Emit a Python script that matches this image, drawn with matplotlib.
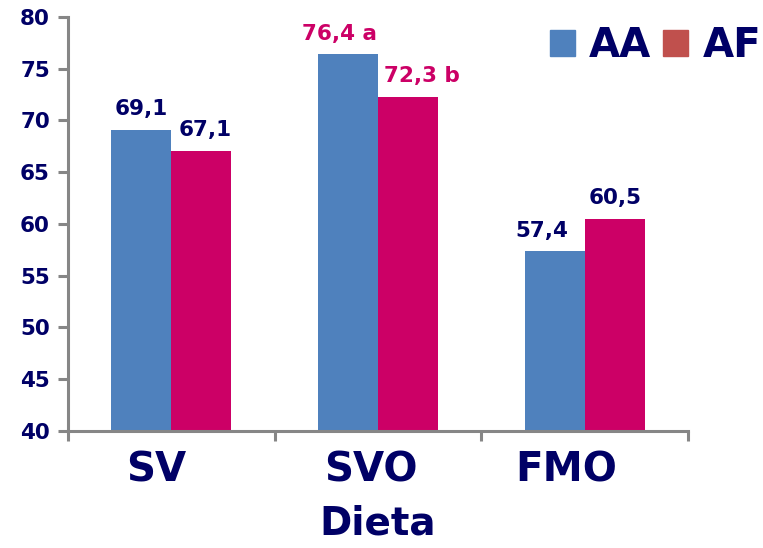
import numpy as np
import matplotlib.pyplot as plt
import matplotlib.transforms as mtransforms
from matplotlib.patches import Patch

dietas = ['SV', 'SVO', 'FMO']
aa = [69.1, 76.4, 57.4]
af = [67.1, 72.3, 60.5]
aa_labels = ['69,1', '76,4 a', '57,4']
af_labels = ['67,1', '72,3 b', '60,5']
series = ['AA', 'AF']

navy = '#000066'
blue = '#4F81BD'
magenta = '#CC0066'
grey = '#868686'

plt.rcParams['font.family'] = ['DejaVu Sans']
plt.rcParams['font.weight'] = 'bold'

fig = plt.figure(figsize=(7.63, 5.48), dpi=100)
ax = fig.add_axes([0.0891, 0.2135, 0.8126, 0.7555])

x = np.arange(len(dietas))
w = 0.29
ax.bar(x - w / 2, aa, w, bottom=0, color=blue, zorder=2)
ax.bar(x + w / 2, af, w, bottom=0, color=magenta, zorder=2)

# value labels; the SVO pair carries significance letters in magenta
lab_colors = [navy, magenta, navy]
aa_dx = [0, -0.04, -0.06]
af_dx = [0.02, 0.07, 0]
for i in range(len(dietas)):
    ax.text(x[i] - w / 2 + aa_dx[i], aa[i] + 1.0, aa_labels[i], ha='center', va='bottom',
            fontsize=15.5, fontweight='bold', color=lab_colors[i])
    ax.text(x[i] + w / 2 + af_dx[i], af[i] + 1.0, af_labels[i], ha='center', va='bottom',
            fontsize=15.5, fontweight='bold', color=lab_colors[i])

ax.set_ylim(40, 80)
ax.set_xlim(-0.5, 2.5)
ax.set_yticks(np.arange(40, 81, 5))
ax.set_xticks(x)
ax.set_xticklabels(dietas, fontsize=29, fontweight='bold', color=navy)
ax.set_xticks(np.arange(-0.5, 2.6, 1), minor=True)
ax.tick_params(axis='x', which='major', length=0, pad=14)
ax.tick_params(axis='x', which='minor', length=7, width=2.2, color=grey, direction='out')
ax.tick_params(axis='y', length=7, width=2.2, color=grey, direction='out', pad=6,
               labelsize=15.5, labelcolor=navy)
for t in ax.get_yticklabels():
    t.set_fontweight('bold')

# category names sit a little left of the group centres
shifts = [-15, -7, -18]
for lab, dx in zip(ax.get_xticklabels(), shifts):
    lab.set_transform(lab.get_transform() +
                      mtransforms.ScaledTranslation(dx / 100, 0, fig.dpi_scale_trans))

ax.set_xlabel('Dieta', fontsize=28, fontweight='bold', color=navy, labelpad=10)

for s in ['top', 'right']:
    ax.spines[s].set_visible(False)
for s in ['left', 'bottom']:
    ax.spines[s].set_color(grey)
    ax.spines[s].set_linewidth(2.2)

handles = [Patch(color=blue), Patch(color='#C0504D')]
leg = ax.legend(handles, series, loc='center right', bbox_to_anchor=(1.118, 0.93), ncol=2,
                frameon=False, borderpad=0, borderaxespad=0,
                handlelength=0.62, handleheight=0.62, handletextpad=0.35,
                columnspacing=0.3, prop={'size': 29, 'weight': 'bold'})
for t in leg.get_texts():
    t.set_color(navy)

fig.savefig('out.png', dpi=100)
